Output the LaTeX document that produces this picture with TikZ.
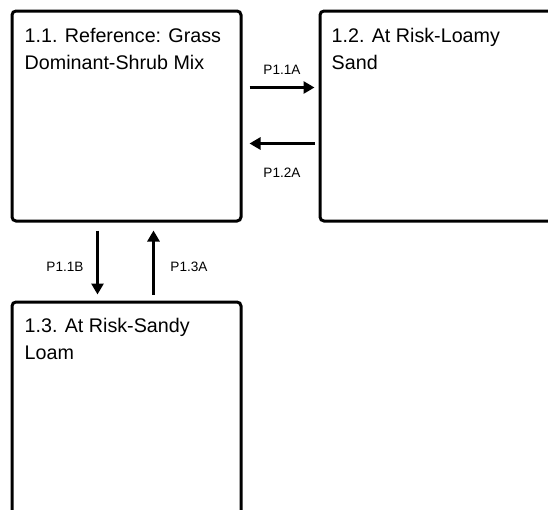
\documentclass[tikz,border=0pt]{standalone}
\usepackage{fontspec}
\setmainfont{Liberation Sans}
\usetikzlibrary{arrows.meta}
\begin{document}
\begin{tikzpicture}[x=1pt,y=1pt,
  box/.style={draw=black, line width=3pt, rounded corners=4pt, rectangle, inner sep=0pt, fill=white},
  title/.style={anchor=north west, inner sep=0pt, align=left, font=\fontsize{19.7}{26.7}\selectfont},
  lbl/.style={inner sep=0pt, font=\fontsize{13.6}{16}\selectfont},
  arr/.style={line width=3pt, -{Triangle[length=11pt,width=12pt]}}]
\useasboundingbox (0,0) rectangle (548,-509);
\clip (0,0) rectangle (548,-509);
\node[box, minimum width=229pt, minimum height=210pt] (b11) at (126.5,-116) {};
\node[box, minimum width=240pt, minimum height=210pt] (b12) at (440,-116) {};
\node[box, minimum width=229pt, minimum height=218pt] (b13) at (126.5,-411) {};
\node[title] (t11) at (24.5,-28.5) {1.1. Reference: Grass\\Dominant-Shrub Mix};
\node[title] (t12) at (331.5,-28.5) {1.2. At Risk-Loamy\\Sand};
\node[title] (t13) at (24.5,-318) {1.3. At Risk-Sandy\\Loam};
\draw[arr] ([shift={(7,-78)}]b11.north east) -- ([shift={(-4,-78)}]b12.north west);
\draw[arr] ([shift={(-4,-134)}]b12.north west) -- ([shift={(7,-134)}]b11.north east);
\draw[arr] ([shift={(87,-8)}]b11.south west) -- ([shift={(87,6)}]b13.north west);
\draw[arr] ([shift={(143,6)}]b13.north west) -- ([shift={(143,-8)}]b11.south west);
\node[lbl] (l1) at (282,-69.5) {P1.1A};
\node[lbl] (l2) at (282,-173) {P1.2A};
\node[lbl] (l3) at (65,-267) {P1.1B};
\node[lbl] (l4) at (189,-267) {P1.3A};
\end{tikzpicture}
\end{document}
